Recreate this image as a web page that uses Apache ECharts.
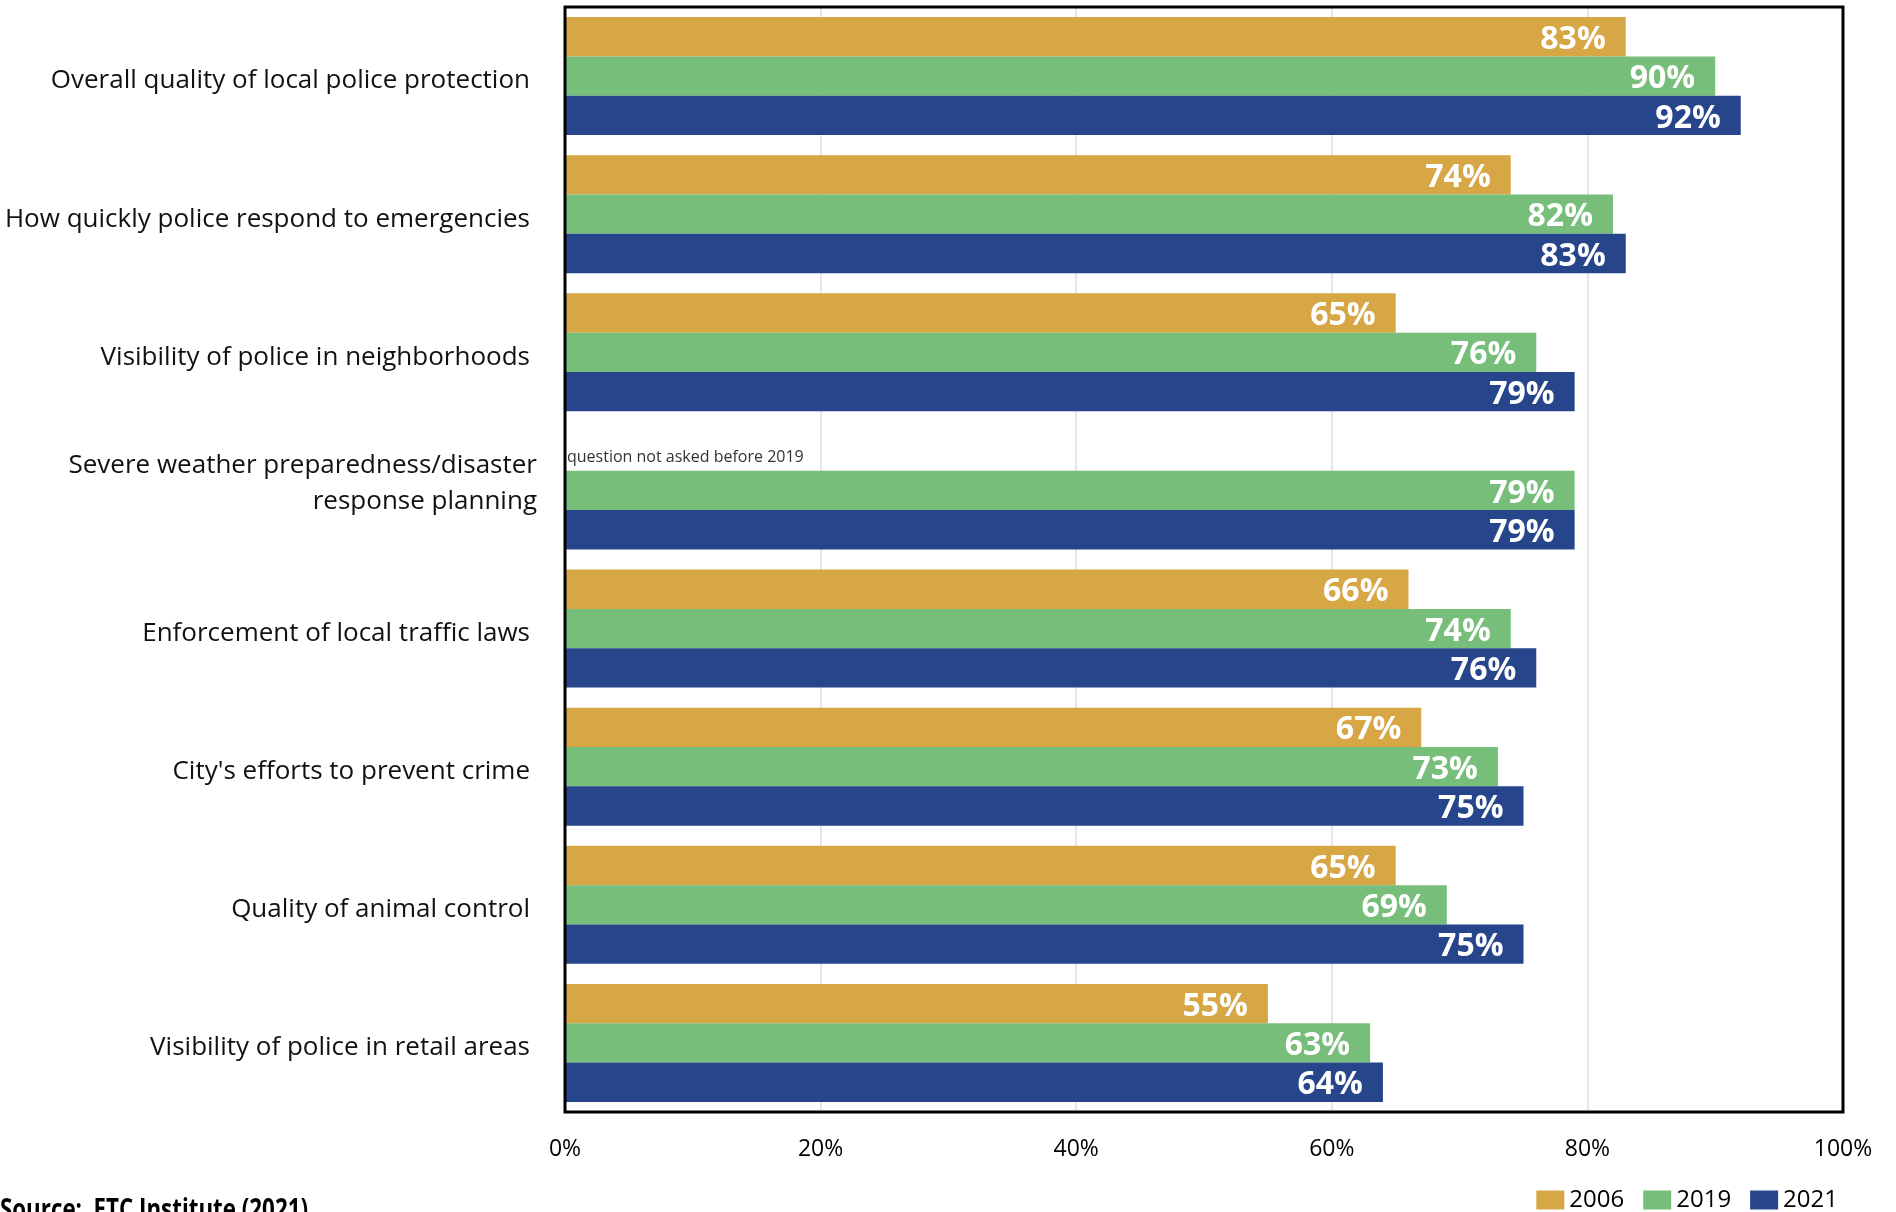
<!DOCTYPE html>
<html>
<head>
<meta charset="utf-8">
<title>Police services satisfaction</title>
<script src="https://cdn.jsdelivr.net/npm/echarts@6/dist/echarts.min.js"></script>
<style>
  html, body { margin: 0; padding: 0; background: #ffffff; }
  #chart { width: 1896px; height: 1212px; }
</style>
</head>
<body>
<div id="chart"></div>
<script>
// Survey items, top to bottom
const categories = [
  'Overall quality of local police protection',
  'How quickly police respond to emergencies',
  'Visibility of police in neighborhoods',
  'Severe weather preparedness/disaster\nresponse planning',
  'Enforcement of local traffic laws',
  "City's efforts to prevent crime",
  'Quality of animal control',
  'Visibility of police in retail areas'
];

// Percent satisfied by survey year (null = not asked that year)
const values2006 = [83, 74, 65, null, 66, 67, 65, 55];
const values2019 = [90, 82, 76, 79, 74, 73, 69, 63];
const values2021 = [92, 83, 79, 79, 76, 75, 75, 64];

// Notes shown in place of a missing 2006 bar
const notes2006 = [null, null, null, 'question not asked before 2019', null, null, null, null];

const years = ['2006', '2019', '2021'];
const colors = ['#D7A645', '#77BE7B', '#26458A'];
const xTicks = [0, 20, 40, 60, 80, 100];

const FONT = '"Open Sans", "Noto Sans", sans-serif';

const valueLabel = {
  show: true,
  position: 'insideRight',
  distance: 20,
  offset: [0, 3],
  color: '#ffffff',
  fontFamily: FONT,
  fontWeight: 'bold',
  fontSize: 32,
  formatter: p => p.value + '%'
};

function buildSeriesData(values, notes) {
  return values.map((v, i) => {
    if (notes && notes[i]) {
      return {
        value: 0,
        label: {
          show: true,
          position: 'insideLeft',
          distance: 2,
          offset: [0, 6],
          color: '#333333',
          fontWeight: 'normal',
          fontSize: 16,
          formatter: notes[i]
        }
      };
    }
    return v === null ? '-' : v;
  });
}

const seriesValues = [
  buildSeriesData(values2006, notes2006),
  buildSeriesData(values2019),
  buildSeriesData(values2021)
];

// Category label styling: one-line labels sit slightly low, wrapped labels slightly high
function categoryLabel(text) {
  const lines = text.split('\n');
  if (lines.length === 1) return '{one|' + text + '}';
  return lines.map(l => '{wrap|' + l + '}').join('\n');
}

const labelBase = { fontFamily: FONT, fontSize: 26, color: '#111111', lineHeight: 36 };

const chart = echarts.init(document.getElementById('chart'), null, { renderer: 'canvas' });

chart.setOption({
  animation: false,
  backgroundColor: '#ffffff',
  grid: {
    left: 565,
    right: 53,
    top: 7,
    bottom: 100,
    show: false
  },
  legend: {
    data: years,
    right: 53,
    top: 1183,
    itemWidth: 28,
    itemHeight: 19,
    itemGap: 19,
    icon: 'rect',
    textStyle: { fontFamily: FONT, fontSize: 24, color: '#000000' }
  },
  xAxis: {
    type: 'value',
    min: xTicks[0],
    max: xTicks[xTicks.length - 1],
    interval: xTicks[1] - xTicks[0],
    axisLine: { show: false },
    axisTick: { show: false },
    splitLine: { show: true, lineStyle: { color: '#e6e6e6', width: 2 } },
    axisLabel: {
      margin: 26,
      color: '#000000',
      fontFamily: FONT,
      fontSize: 23,
      formatter: '{value}%'
    }
  },
  yAxis: {
    type: 'category',
    data: categories,
    inverse: true,
    axisLine: { show: false },
    axisTick: { show: false },
    splitLine: { show: false },
    axisLabel: {
      margin: 28,
      align: 'right',
      formatter: categoryLabel,
      rich: {
        one: Object.assign({}, labelBase, { padding: [10, 7, 0, 0] }),
        wrap: Object.assign({}, labelBase, { padding: [0, 0, 14, 0] })
      }
    }
  },
  series: years.map((y, k) => ({
    name: y,
    type: 'bar',
    data: seriesValues[k],
    barGap: '0%',
    barCategoryGap: '14.5%',
    itemStyle: { color: colors[k] },
    label: valueLabel
  }))
});

// Plot frame drawn over the bars, sized from the laid-out grid
const gridRect = chart.getModel().getComponent('grid', 0).coordinateSystem.getRect();
chart.setOption({
  graphic: [
    {
      type: 'rect',
      z: 100,
      silent: true,
      shape: { x: gridRect.x, y: gridRect.y, width: gridRect.width, height: gridRect.height },
      style: { fill: 'none', stroke: '#000000', lineWidth: 3 }
    },
    {
      type: 'text',
      left: 0,
      top: 1196,
      scaleX: 0.77,
      style: {
        text: 'Source:  ETC Institute (2021)',
        fill: '#000000',
        font: 'bold 29px ' + FONT
      }
    }
  ]
});
</script>
</body>
</html>
